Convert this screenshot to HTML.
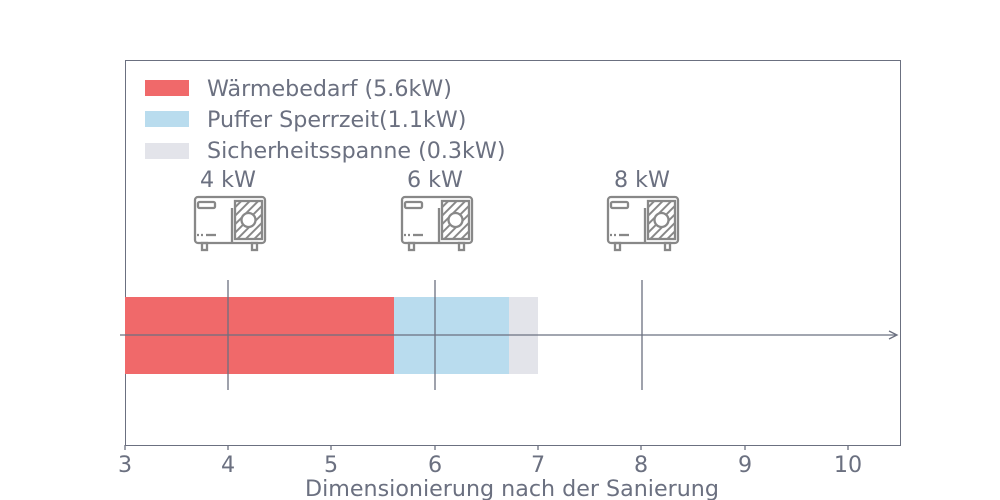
<!DOCTYPE html>
<html><head><meta charset="utf-8"><style>body{margin:0;background:#fff}svg{display:block}</style></head>
<body>
<svg width="1000" height="500" xmlns="http://www.w3.org/2000/svg" font-family="DejaVu Sans, sans-serif" fill="#6b7080">
<defs>
<pattern id="h" width="6" height="6" patternUnits="userSpaceOnUse" patternTransform="rotate(45)">
<rect width="6" height="6" fill="#fff"/><rect width="2" height="6" fill="#888"/></pattern>
<g id="ic" fill="none" stroke="#888" stroke-width="2.3">
<rect x="1" y="1" width="70" height="46" rx="3"/>
<line x1="38" y1="12" x2="38" y2="47"/>
<rect x="41" y="5" width="27" height="38" fill="url(#h)"/>
<circle cx="54.5" cy="24" r="7" fill="#fff"/>
<rect x="4" y="6" width="17" height="6" rx="1.5"/>
<line x1="3" y1="39" x2="9" y2="39" stroke-dasharray="2 2"/>
<line x1="12" y1="39" x2="22" y2="39"/>
<rect x="8" y="47" width="5" height="7"/>
<rect x="58" y="47" width="5" height="7"/>
</g>
</defs>
<rect x="125.5" y="60.5" width="775" height="385" fill="none" stroke="#6b7080" stroke-width="1"/>
<rect x="145" y="80" width="44" height="16" fill="#f0696a"/>
<rect x="145" y="111" width="44" height="16" fill="#b9dcee"/>
<rect x="145" y="143" width="44" height="16" fill="#e3e4ea"/>
<g font-size="22.2">
<text x="207" y="96">Wärmebedarf (5.6kW)</text>
<text x="207" y="127">Puffer Sperrzeit(1.1kW)</text>
<text x="207" y="158">Sicherheitsspanne (0.3kW)</text>
<text x="228" y="187" text-anchor="middle">4 kW</text>
<text x="435" y="187" text-anchor="middle">6 kW</text>
<text x="642" y="187" text-anchor="middle">8 kW</text>
</g>
<use href="#ic" x="194" y="196"/>
<use href="#ic" x="401" y="196"/>
<use href="#ic" x="607" y="196"/>
<rect x="125" y="297" width="269" height="77" fill="#f0696a"/>
<rect x="394" y="297" width="115" height="77" fill="#b9dcee"/>
<rect x="509" y="297" width="29" height="77" fill="#e3e4ea"/>
<g stroke="#6b7080" stroke-width="1.3">
<line x1="228" y1="280" x2="228" y2="390"/>
<line x1="435" y1="280" x2="435" y2="390"/>
<line x1="642" y1="280" x2="642" y2="390"/>
<line x1="120" y1="335" x2="896" y2="335"/>
<polyline points="889,331 897,335 889,339" fill="none"/>
<line x1="228" y1="445" x2="228" y2="450"/><line x1="331" y1="445" x2="331" y2="450"/><line x1="435" y1="445" x2="435" y2="450"/><line x1="538" y1="445" x2="538" y2="450"/><line x1="641" y1="445" x2="641" y2="450"/><line x1="745" y1="445" x2="745" y2="450"/><line x1="848" y1="445" x2="848" y2="450"/><line x1="125" y1="445" x2="125" y2="450"/>
</g>
<g font-size="22.2" text-anchor="middle">
<text x="125" y="472">3</text><text x="228" y="472">4</text><text x="331" y="472">5</text><text x="435" y="472">6</text><text x="538" y="472">7</text><text x="641" y="472">8</text><text x="745" y="472">9</text><text x="848" y="472">10</text>
<text x="512" y="496">Dimensionierung nach der Sanierung</text>
</g>
</svg>
</body></html>
